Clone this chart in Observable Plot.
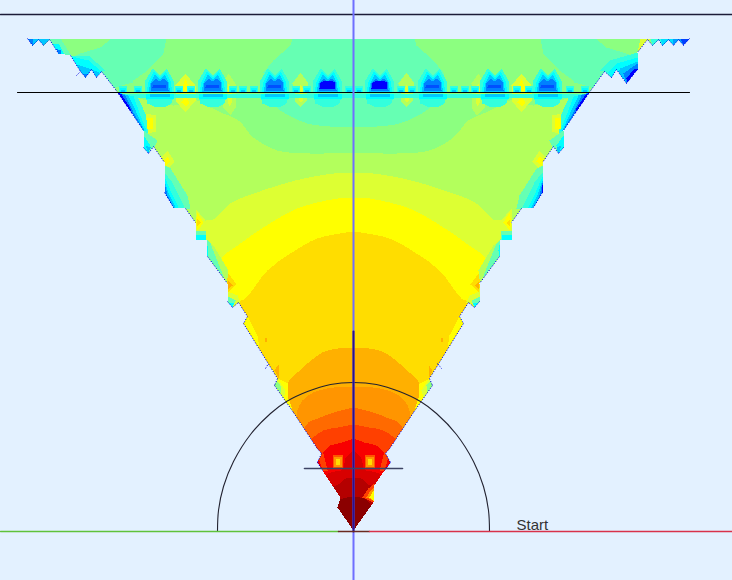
<!DOCTYPE html>
<html><head><meta charset="utf-8">
<style>html,body{margin:0;padding:0;background:#e3f1ff}svg{display:block}</style>
<script src="https://cdn.jsdelivr.net/npm/d3@7"></script>
<script src="https://cdn.jsdelivr.net/npm/@observablehq/plot@0.6"></script>
</head><body><div id="chart"></div>
<script>
const axisX = 353, floorY = 536;
const bg="#e3f1ff", mint="#66ffb3", green="#8cff80", lime="#b3ff5c", limeY="#ddff33", yellow="#ffff00", gold="#ffdd00", amber="#ffb000",
      orange="#ff9500", orange2="#ff6a00", orange3="#ff4000", red1="#ff1a00", red2="#f80000", red3="#d80000", red4="#b40000", maroon="#8b0000",
      aqua="#33ffdd", cyan="#00ffff", sky="#00c8ff", blue2="#0080ff", blue1="#0000ff";

const leftEdge = [[27,38],[32,45],[38,39],[43,45],[49,39],[58,53],[70,55],[80,71],[85,77],[91,69],[96,77],[101,71],[115,89],[143,130],[143,147],[148,153],[153,146],[164,162],[164,192],[173,207],[185,208],[195,222],[195,239],[206,239],[207,256],[227,283],[227,301],[232,307],[238,302],[247,316],[243,323],[277,378],[274,385],[293,412],[316,447],[321,453],[317,462],[322,470],[340,497],[337,507],[353,530]];
const rightEdge = [[689,38],[683,45],[678,39],[673,45],[668,39],[662,45],[658,39],[652,45],[647,39],[637,52],[637,69],[626,83],[616,69],[611,77],[604,71],[591,89],[563,130],[563,147],[558,153],[553,146],[542,162],[542,192],[533,207],[521,208],[511,222],[511,239],[500,239],[499,256],[479,283],[479,301],[474,307],[468,302],[459,316],[463,323],[429,378],[432,385],[413,412],[390,447],[385,453],[390,462],[384,470],[374,485],[373,502],[353,530]];
const spurs = [[[76,75],[80,71]],[[265,368],[268,363]],[[437,363],[441,368]]];

// contours (left half, symmetric about the axis)
const contourGreen = [[100,97],[263,97],[280,110],[307,123],[353,127]];
const contourLime = [[115,97],[150,101],[173,105],[197,100],[210,107],[223,113],[238,120],[253,137],[277,150],[310,153],[353,152]];
const contourLimeY = [[205,240],[205,220],[213,219],[230,203],[262,190],[295,180],[333,173],[353,172]];
const contourYellow = [[227,285],[226,275],[220,260],[240,243],[263,227],[297,208],[337,198],[353,197]];
const contourGold = [[238,302],[245,298],[267,270],[290,253],[317,238],[353,231]];
const contourAmber = [[292,412],[287,398],[287,383],[297,372],[307,363],[322,352],[337,348],[353,347]];
const contourOrange = [[296,418],[297,410],[302,400],[313,392],[333,387],[353,386]];
const contourOrange2 = [[303,432],[303,430],[308,422],[320,417],[333,412],[353,407]];
const contourOrange3 = [[310,442],[312,438],[323,430],[337,427],[353,424]];
const contourRed1 = [[315,455],[322,452],[330,445],[342,442],[353,438]];
const contourRed3 = [[325,475],[340,470],[343,468],[345,458],[353,450]];
const contourRed4 = [[330,488],[338,484],[345,478],[353,478]];
const contourMaroon = [[335,507],[340,499],[353,496]];
const contours = [[contourGreen,green],[contourLime,lime],[contourLimeY,limeY],[contourYellow,yellow],[contourGold,gold],[contourAmber,amber],[contourOrange,orange],[contourOrange2,orange2],[contourOrange3,orange3],[contourRed1,red2],[contourRed3,red3],[contourRed4,red4],[contourMaroon,maroon]];

const baseSheet = [[20,38],[700,38],[700,200],[20,200]];
const topPatches = [
 [[[50,38],[111,38],[100,47],[80,53],[70,57]],green],
 [[[166,38],[292,38],[290,45],[273,60],[263,72],[263,97],[132,97],[133,80],[147,70],[163,53]],green],
];
// columns above/below the band
const columns = [
 [[[185,73],[175,85],[175,100],[185,112],[195,100],[195,85]],limeY],
 [[[185,78],[182,86],[182,90],[188,90],[188,86]],yellow],
 [[[185,95],[181,102],[185,106],[189,102]],yellow],
 [[[228,73],[222,83],[222,107],[230,115],[235,107],[235,83]],lime],
 [[[228,83],[227,88],[227,102],[229,106],[231,102],[231,88]],limeY],
 [[[300,72],[292,83],[294,92],[294,100],[300,107],[306,100],[306,92],[308,83]],lime],
 [[[300,84],[298,88],[298,100],[300,102],[302,100],[302,88]],limeY],
];
const blockDx = [26,79,141,194];
const blockDepth = [6,5,5,5];
const earShapes = [
 [[[-15,92],[-14,80],[-7,68],[0,75],[7,68],[14,80],[15,92]],aqua],
 [[[-13,92],[-11,81],[-6,71],[0,77],[6,71],[11,81],[13,92]],cyan],
 [[[-11,92],[-9,82],[-5,74],[0,79],[5,74],[9,82],[11,92]],sky],
 [[[-9,90],[-8,82],[-4,78],[0,81],[4,78],[8,82],[9,90]],blue2],
 [[[-7,87],[-6,84],[6,84],[7,87]],"#0050ff"],
 [[[-8,88],[-7,82],[-3,80],[3,80],[7,82],[8,88]],blue1],
];
const underShapes = [
 [[[-15,93],[15,93],[12,103],[6,106],[-6,106],[-12,103]],aqua],
 [[[-14,93],[14,93],[14,98],[-14,98]],cyan],
 [[[-10,93],[10,93],[10,96],[-10,96]],sky],
];
const squareDx = [5,47,58,100,111,121,163,175,216,231];
const squares = [
 [[[-4,92],[-4,85],[4,85],[4,92]],aqua],
 [[[-3,92],[-3,87],[3,87],[3,92]],cyan],
 [[[-2,91],[-2,89],[2,89],[2,91]],sky],
];
const strip = [[[120,93],[586,93],[586,97],[120,97]],aqua];

const edgePatches = [
 // band flank
 [[[115,92],[138,98],[148,120],[150,132],[143,132]],aqua],
 [[[117,92],[133,96],[140,115],[146,130],[143,132]],cyan],
 [[[117,92],[128,95],[136,112],[144,130],[143,131]],sky],
 [[[117,92],[125,95],[133,112],[143,129]],blue2],
 [[[117,92],[121,94],[130,108],[132,115]],blue1],
 [[[145,113],[155,115],[155,131],[148,133]],limeY],
 [[[146,117],[152,117],[152,128],[146,128]],yellow],
 [[[143,130],[157,140],[154,147],[148,153],[143,147]],mint],
 [[[143,135],[150,145],[148,153],[143,147]],cyan],
 [[[145,145],[150,147],[148,153]],sky],
 // flank at 164-190
 [[[167,150],[174,161],[166,170],[160,158]],limeY],
 [[[167,156],[170,161],[165,165],[163,160]],yellow],
 [[[164,165],[170,168],[187,195],[190,208],[173,208],[164,192]],mint],
 [[[164,172],[172,182],[184,207],[173,207],[164,192]],aqua],
 [[[164,176],[170,190],[178,207],[173,207],[164,192]],cyan],
 [[[164,180],[168,192],[175,207],[173,207],[164,192]],sky],
 [[[164,182],[167,195],[172,205],[164,192]],blue2],
 [[[164,184],[165,195],[168,200],[164,192]],blue1],
 // flank at 195-206
 [[[195,208],[205,220],[205,232],[197,232],[195,232]],limeY],
 [[[197,212],[203,222],[197,230],[195,222]],yellow],
 [[[196,218],[200,222],[197,226]],gold],
 [[[195,230],[205,230],[206,239],[195,239]],mint],
 [[[195,234],[205,234],[205,239],[195,239]],cyan],
 // flank at 206-227
 [[[206,239],[213,245],[228,270],[227,283],[207,256]],lime],
 [[[206,239],[210,243],[224,278],[207,256]],mint],
 [[[206,240],[208,250],[207,256]],cyan],
 [[[228,273],[236,284],[228,291],[226,283]],gold],
 [[[227,280],[232,285],[228,288]],amber],
 [[[227,291],[237,295],[240,302],[232,307],[227,301]],limeY],
 [[[227,296],[235,300],[232,307],[227,301]],mint],
 [[[228,302],[234,302],[232,307]],cyan],
 // lower flanks
 [[[247,316],[243,323],[259,348],[257,335]],yellow],
 [[[264,337],[266,337],[266,341],[264,341]],amber],
 [[[274,370],[278,364],[278,378]],amber],
 [[[277,378],[274,385],[293,412],[288,398],[287,383]],yellow],
 [[[277,378],[274,385],[283,398],[285,390]],limeY],
 [[[276,380],[274,385],[280,393],[280,385]],green],
 // hot spots beside the short bar
 [[[316,450],[322,450],[327,470],[322,470]],orange3],
 [[[332,454],[342,454],[342,468],[332,468]],"#ff5500"],
 [[[333,456],[341,456],[341,466],[333,466]],orange],
 [[[335,458],[339,458],[339,464],[335,464]],gold],
];
const topLeftPatches = [
 [[[27,38],[49,38],[43,45],[38,39],[32,45]],sky],
 [[[27,38],[33,38],[32,45]],blue2],
 [[[49,38],[60,38],[70,54],[58,54]],mint],
 [[[52,43],[58,43],[64,54],[58,54]],cyan],
 [[[55,48],[60,50],[61,54],[58,54]],blue2],
 [[[70,55],[88,55],[105,70],[101,71],[96,77],[91,69],[85,77],[80,71]],aqua],
 [[[71,56],[88,60],[101,71],[96,77],[91,69],[85,77],[80,71]],cyan],
 [[[76,64],[85,67],[91,69],[85,77],[80,71]],sky],
 [[[91,69],[99,72],[96,77]],sky],
 [[[85,77],[82,73],[88,73]],blue2],
];
const topRightPatches = [
 [[[640,38],[650,38],[637,52]],limeY],
 [[[650,38],[660,38],[662,45],[652,45]],aqua],
 [[[660,38],[672,38],[673,45],[668,39],[662,45]],"#00e0ff"],
 [[[672,38],[680,38],[683,45],[678,39],[673,45]],"#00a0ff"],
 [[[680,38],[689,38],[683,45]],"#0040ff"],
 [[[600,70],[609,60],[637,52],[637,69],[626,83],[616,69],[611,77],[604,71]],aqua],
 [[[616,63],[637,57],[637,69],[626,83],[616,69],[611,77],[608,72]],cyan],
 [[[620,68],[637,61],[637,69],[626,83],[618,71]],sky],
 [[[623,73],[637,63],[637,69],[626,83]],blue2],
 [[[626,78],[634,68],[637,69],[626,83]],blue1],
];
const rightOnlyPatches = [
 [[[374,483],[374,503],[362,497],[368,488]],orange3],
 [[[374,486],[374,501],[366,497],[370,490]],orange],
 [[[373,490],[373,500],[369,497]],yellow],
];
const archLine = [[217,531],[218,510],[223,486],[233,461],[250,434],[270,413],[286,401],[307,391],[330,384],[353,382],[376,384],[399,391],[420,401],[436,413],[456,434],[473,461],[483,486],[488,510],[489,531]];
const topLine = [[0,14],[732,14]];
const bandLine = [[17,92],[689,92]];
const shortBar = [[304,468],[402,468]];
const axisLine = [[axisX,0],[axisX,580]];
const axisDark = [[axisX,331],[axisX,531]];
const groundLeft = [[0,531],[338,531]];
const groundMid = [[338,531],[369,531]];
const groundRight = [[369,531],[732,531]];
const startLabel = [{x:516,y:529,t:"Start"}];

const flip = x => 2*axisX - x;
const mirror = pts => pts.map(([x,y]) => [flip(x),y]);
const shift = (pts,c) => pts.map(([x,y]) => [x+c,y]);
const poly = (pts,color,extra={}) => Plot.line([...pts,pts[0]],{x:d=>d[0],y:d=>d[1],fill:color,stroke:"none",shapeRendering:"crispEdges",...extra});
const both = ([pts,color]) => [poly(pts,color),poly(mirror(pts),color)];
const band = ([prof,color]) => Plot.line([[prof[0][0],floorY],...prof,...mirror(prof).reverse(),[flip(prof[0][0]),floorY]],{x:d=>d[0],y:d=>d[1],fill:color,stroke:"none",curve:"catmull-rom",shapeRendering:"crispEdges"});
const path = (pts,stroke,w,extra={}) => Plot.line(pts,{x:d=>d[0],y:d=>d[1],stroke,strokeWidth:w,...extra});

const edgeSegs = [...[leftEdge,rightEdge].flatMap(e => d3.pairs(e)),...spurs.map(s=>[s[0],s[1]])]
  .filter(([a,b]) => Math.abs(a[0]-b[0])>2 && Math.abs(a[1]-b[1])>2 && Math.max(a[1],b[1])<472);

const blockMarks = blockDx.flatMap((dx,i) => [axisX-dx,axisX+dx].flatMap(c => [
   ...earShapes.slice(0,blockDepth[i]).map(([p,col]) => poly(shift(p,c),col)),
   ...underShapes.map(([p,col]) => poly(shift(p,c),col))]));
const squareMarks = squareDx.flatMap(dx => [axisX-dx,axisX+dx].flatMap(c => squares.map(([p,col]) => poly(shift(p,c),col))));

const marks = [
  poly(baseSheet,mint),
  ...contours.map(band),
  ...topPatches.flatMap(both),
  ...columns.flatMap(both),
  poly(strip[0],strip[1]),
  ...blockMarks,
  ...squareMarks,
  ...edgePatches.flatMap(both),
  ...topLeftPatches.map(([p,c])=>poly(p,c)),
  ...topRightPatches.map(([p,c])=>poly(p,c)),
  ...rightOnlyPatches.map(([p,c])=>poly(p,c)),
  // outside of the wedge
  poly([...leftEdge,[axisX,585],[-5,585],[-5,38]],bg),
  poly([...rightEdge,[axisX,585],[737,585],[737,38]],bg),
  poly([[-5,-5],[737,-5],[737,38],[-5,38]],bg),
  Plot.link(edgeSegs,{x1:d=>d[0][0],y1:d=>d[0][1],x2:d=>d[1][0],y2:d=>d[1][1],stroke:"#0000e0",strokeWidth:1,strokeDasharray:"1.2 1.6"}),
  path(archLine,"#222230",1.1,{curve:"catmull-rom"}),
  path(topLine,"#1c1c38",1.3),
  path(bandLine,"#000",1.1),
  path(axisLine,"#6f6fff",2),
  path(axisDark,"#2a1090",2),
  path(shortBar,"#3c4464",1.6),
  path(groundLeft,"#5fc23a",1.5),
  path(groundMid,"#6a2a20",1.5),
  path(groundRight,"#d8324a",1.5),
  Plot.text(startLabel,{x:"x",y:"y",text:"t",textAnchor:"start",lineAnchor:"bottom",fontSize:15,fontFamily:"Liberation Sans",fill:"#333"})
];

const chart = Plot.plot({
  width:732,height:580,margin:0,
  style:{background:bg},
  x:{domain:[0,732],range:[0,732],axis:null},
  y:{domain:[0,580],range:[0,580],axis:null},
  marks
});
document.getElementById("chart").append(chart);
</script></body></html>
